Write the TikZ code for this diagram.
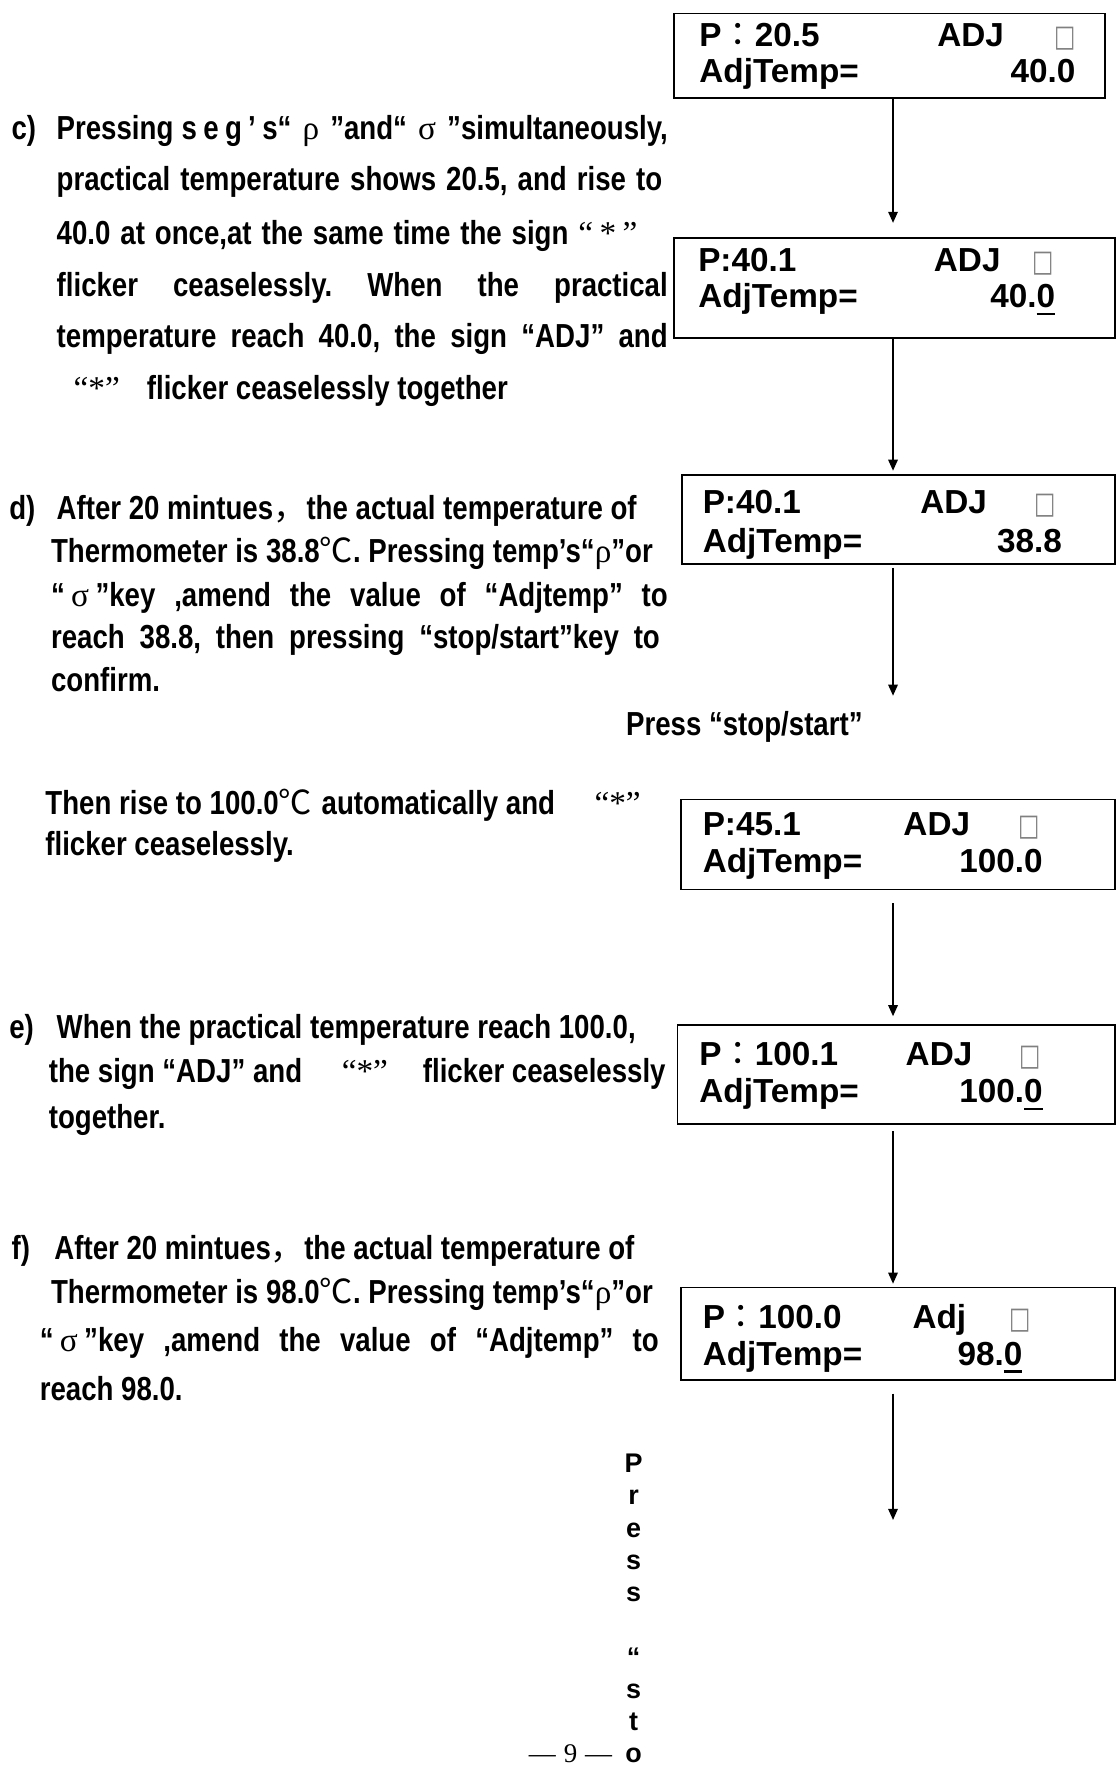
\documentclass[tikz,border=0pt]{standalone}
\usepackage{fontspec}
\setmainfont{Liberation Sans}
\newfontfamily\narrowfont{Liberation Sans}[FakeStretch=0.83]
\newfontfamily\grk{Liberation Serif}
\newfontfamily\cjk{Noto Sans CJK SC}
\newfontfamily\cjktc{Noto Sans CJK TC}
\newfontfamily\symfont{DejaVu Sans}
\usetikzlibrary{arrows.meta,fit}

\newlength\unitpx
\setlength\unitpx{0.025cm}
\newcommand\jline[2]{\makebox[#1\unitpx][s]{#2}}
\newcommand\uzero{\setbox0\hbox{0}\rlap{\rule[-4.5pt]{\wd0}{1.5pt}}0}
\newcommand\gr[1]{{\grk\mdseries #1}}
\newcommand\cj[1]{{\cjk\mdseries #1}}
\newcommand\colonfw{{\cjktc\mdseries ：}}
\frenchspacing

\tikzset{
  lcd/.style={draw, line width=1pt, rectangle, inner sep=0pt},
  lcdtext/.style={anchor=base west, inner sep=0pt, font=\bfseries\fontsize{21}{25}\selectfont},
  lcdval/.style={lcdtext, anchor=base east},
  tofu/.style={anchor=base, inner sep=0pt, text=gray, font=\symfont\fontsize{19}{22}\selectfont},
  body/.style={anchor=base west, inner sep=0pt, font=\narrowfont\bfseries\fontsize{21}{25}\selectfont},
  vert/.style={anchor=base, inner sep=0pt, font=\bfseries\fontsize{17}{20}\selectfont},
  pagenum/.style={anchor=base, inner sep=0pt, font=\grk\fontsize{17}{20}\selectfont},
  flow/.style={draw, line width=1pt, -{Triangle[length=7pt,width=6pt]}}
}

\begin{document}
\begin{tikzpicture}[x=0.025cm, y=-0.025cm]
\useasboundingbox (0,0) rectangle (991,1568);

% displays
\node[lcd, fit={(598,12) (980,87)}] (lcd1) {};
\node[lcdtext] (read1) at (620,41) {P\colonfw 20.5};
\node[lcdtext] (mode1) at (831,41) {ADJ};
\node[tofu] (sq1) at (945,41) {\scalebox{0.75}[1]{□}};
\node[lcdtext] (set1) at (620,73) {AdjTemp=};
\node[lcdval] (val1) at (954,73) {40.0};

\node[lcd, fit={(598,211) (989,300)}] (lcd2) {};
\node[lcdtext] (read2) at (619,241) {P:40.1};
\node[lcdtext] (mode2) at (828,241) {ADJ};
\node[tofu] (sq2) at (925,241) {\scalebox{0.75}[1]{□}};
\node[lcdtext] (set2) at (619,273) {AdjTemp=};
\node[lcdval] (val2) at (936,273) {40.\uzero};

\node[lcd, fit={(605,421) (989,500)}] (lcd3) {};
\node[lcdtext] (read3) at (623,455) {P:40.1};
\node[lcdtext] (mode3) at (816,455) {ADJ};
\node[tofu] (sq3) at (927,455) {\scalebox{0.75}[1]{□}};
\node[lcdtext] (set3) at (623,490) {AdjTemp=};
\node[lcdval] (val3) at (942,490) {38.8};

\node[lcd, fit={(604,709) (989,789)}] (lcd4) {};
\node[lcdtext] (read4) at (623,741) {P:45.1};
\node[lcdtext] (mode4) at (801,741) {ADJ};
\node[tofu] (sq4) at (913,741) {\scalebox{0.75}[1]{□}};
\node[lcdtext] (set4) at (623,774) {AdjTemp=};
\node[lcdval] (val4) at (925,774) {100.0};

\node[lcd, fit={(601,909) (989,997)}] (lcd5) {};
\node[lcdtext] (read5) at (620,945) {P\colonfw 100.1};
\node[lcdtext] (mode5) at (803,945) {ADJ};
\node[tofu] (sq5) at (914,945) {\scalebox{0.75}[1]{□}};
\node[lcdtext] (set5) at (620,978) {AdjTemp=};
\node[lcdval] (val5) at (925,978) {100.\uzero};

\node[lcd, fit={(604,1142) (989,1224)}] (lcd6) {};
\node[lcdtext] (read6) at (623,1178) {P\colonfw 100.0};
\node[lcdtext] (mode6) at (809,1178) {Adj};
\node[tofu] (sq6) at (905,1178) {\scalebox{0.75}[1]{□}};
\node[lcdtext] (set6) at (623,1211) {AdjTemp=};
\node[lcdval] (val6) at (907,1211) {98.\uzero};

% arrows
\coordinate (ax) at (792,0);
\coordinate (end3) at (792,617);
\coordinate (end6) at (792,1348);
\draw[flow, shorten >=9pt] (lcd1.south -| ax) -- (lcd2.north -| ax);
\draw[flow, shorten >=2pt] (lcd2.south -| ax) -- (lcd3.north -| ax);
\draw[flow, shorten <=2pt] (lcd3.south -| ax) -- (end3);
\draw[flow, shorten <=8pt, shorten >=5pt] (lcd4.south -| ax) -- (lcd5.north -| ax);
\draw[flow, shorten <=4pt, shorten >=2pt] (lcd5.south -| ax) -- (lcd6.north -| ax);
\draw[flow, shorten <=8pt] (lcd6.south -| ax) -- (end6);

% step c
\node[body] (lc) at (10,124) {c)};
\node[body] (c1) at (50,124) {\jline{542}{Pressing s\kern4pt e\kern4pt g\kern4pt ’\kern4pt s“\hspace{7pt}\gr{ρ}\hspace{7pt}”and“\hspace{7pt}\gr{σ}\hspace{7pt}”simultaneously,}};
\node[body] (c2) at (50,169) {\jline{537}{practical temperature shows 20.5, and rise to}};
\node[body] (c3) at (50,217) {\jline{515}{40.0 at once,at the same time the sign \gr{“\hspace{4pt}*\hspace{4pt}”}}};
\node[body] (c4) at (50,263) {\jline{542}{flicker ceaselessly. When the practical}};
\node[body] (c5) at (50,308) {\jline{542}{temperature reach 40.0, the sign “ADJ” and}};
\node[body] (c6) at (65,354) {\makebox[65\unitpx][l]{\gr{“*”}}flicker ceaselessly together};

% step d
\node[body] (ld) at (8,461) {d)};
\node[body] (d1) at (50,461) {After 20 mintues\cj{，}the actual temperature of};
\node[body] (d2) at (45,499) {Thermometer is 38.8\cj{℃}. Pressing temp’s“\gr{ρ}”or};
\node[body] (d3) at (45,538) {\jline{547}{“\hspace{4pt}\gr{σ}\hspace{4pt}”key ,amend the value of “Adjtemp” to}};
\node[body] (d4) at (45,575) {\jline{540}{reach 38.8, then pressing “stop/start”key to}};
\node[body] (d5) at (45,613) {confirm.};

\node[body] (press) at (555,652) {Press “stop/start”};

\node[body] (then1) at (40,722) {\makebox[487\unitpx][l]{Then rise to 100.0\cj{℃}\hspace{6pt}automatically and}\gr{“*”}};
\node[body] (then2) at (40,759) {flicker ceaselessly.};

% step e
\node[body] (le) at (8,921) {e)};
\node[body] (e1) at (50,921) {When the practical temperature reach 100.0,};
\node[body] (e2) at (43,960) {the sign “ADJ” and\hspace{25pt}\gr{“*”}\hspace{22pt}flicker ceaselessly};
\node[body] (e3) at (43,1001) {together.};

% step f
\node[body] (lf) at (10,1117) {f)};
\node[body] (f1) at (48,1117) {After 20 mintues\cj{，}the actual temperature of};
\node[body] (f2) at (45,1156) {Thermometer is 98.0\cj{℃}. Pressing temp’s“\gr{ρ}”or};
\node[body] (f3) at (35,1199) {\jline{549}{“\hspace{4pt}\gr{σ}\hspace{4pt}”key ,amend the value of “Adjtemp” to}};
\node[body] (f4) at (35,1242) {reach 98.0.};

% vertical label
\foreach \ch [count=\i] in {P,r,e,s,s,{},“,s,t,o}
  \node[vert] (pr\i) at (562,{1306+28.6*(\i-1)}) {\ch};

\node[pagenum] (pg) at (506,1563) {—\hspace{5pt}9\hspace{5pt}—};
\end{tikzpicture}
\end{document}
